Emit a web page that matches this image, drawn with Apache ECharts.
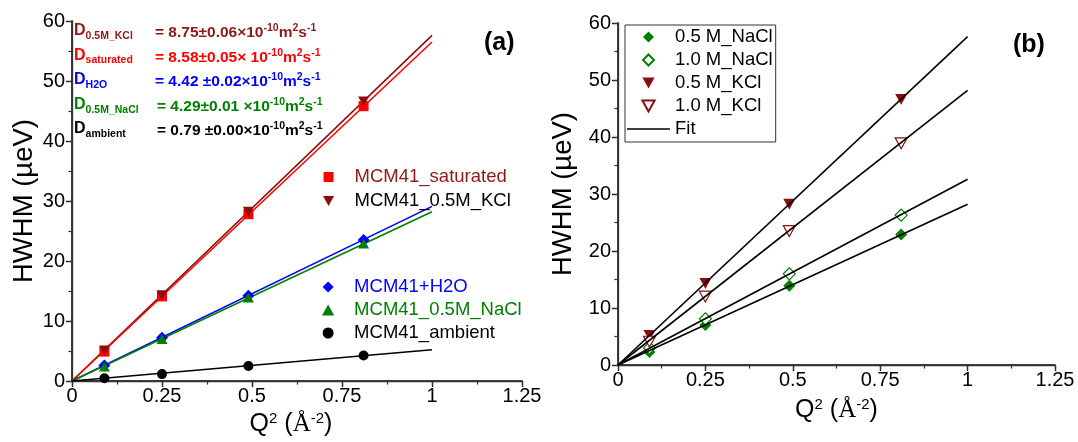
<!DOCTYPE html>
<html>
<head>
<meta charset="utf-8">
<script src="https://cdn.jsdelivr.net/npm/echarts@6/dist/echarts.min.js"></script>
<style>
html,body{margin:0;padding:0;background:#fff;}
#chart{width:1078px;height:442px;}
</style>
</head>
<body>
<div id="chart"></div>
<script>
// ---------- data ----------
const q2 = [0.09, 0.25, 0.49, 0.81];
const fitX = [0, 1];
const xTicks = [0, 0.25, 0.5, 0.75, 1, 1.25];
const xTickLabels = ['0', '0.25', '0.5', '0.75', '1', '1.25'];
const yTicks = [0, 10, 20, 30, 40, 50, 60];
const yTickLabels = ['0', '10', '20', '30', '40', '50', '60'];

// panel (a)
const a_saturated = [4.9, 14.1, 27.8, 45.8];
const a_kcl = [5.1, 14.3, 28.2, 46.6];
const a_h2o = [2.6, 7.2, 14.2, 23.5];
const a_nacl = [2.4, 7.0, 13.9, 22.9];
const a_ambient = [0.45, 1.15, 2.5, 4.25];
const fit_a_kcl = [0, 57.6];
const fit_a_saturated = [0, 56.5];
const fit_a_h2o = [0, 29.1];
const fit_a_nacl = [0, 28.2];
const fit_a_ambient = [0, 5.2];

// panel (b)
const b_nacl05 = [2.3, 7.0, 13.9, 22.9];
const b_nacl10 = [3.0, 8.1, 16.0, 26.3];
const b_kcl05 = [5.2, 14.3, 28.2, 46.6];
const b_kcl10 = [4.1, 12.0, 23.5, 38.9];
const fit_b_kcl05 = [0, 57.6];
const fit_b_kcl10 = [0, 48.2];
const fit_b_nacl10 = [0, 32.6];
const fit_b_nacl05 = [0, 28.2];

// annotation texts
const annSubs = ['0.5M_KCl', 'saturated', 'H2O', '0.5M_NaCl', 'ambient'];
const annVals = ['= 8.75±0.06×10', '= 8.58±0.05× 10', '= 4.42 ±0.02×10', '= 4.29±0.01 ×10', '= 0.79 ±0.00×10'];

// ---------- styles ----------
const FONT = '"Liberation Sans", Arial, Helvetica, sans-serif';
const DARKRED = '#8B0D0D';
const RED = '#FF0000';
const BLUE = '#0000FF';
const GREEN = '#008000';
const BLACK = '#000000';
const annColors = ['#8B1A1A', RED, BLUE, GREEN, BLACK];
const annY = [34, 58.5, 83, 108, 132];
const annX2 = [155, 155, 155, 157, 157];

const SQ = 'path://M0,0L10,0L10,10L0,10Z';
const DIA = 'path://M5,0L10,5L5,10L0,5Z';
const TUP = 'path://M5,0L10,9L0,9Z';
const TDN = 'path://M0,0L10,0L5,9Z';
const CIR = 'path://M0,5A5,5,0,1,0,10,5A5,5,0,1,0,0,5Z';
const LINEICON = 'path://M0,0L43,0L43,1.6L0,1.6Z';

function pts(arr) { return q2.map((x, i) => [x, arr[i]]); }
function line(arr) { return fitX.map((x, i) => [x, arr[i]]); }

function scatter(name, arr, sym, size, color, hollow, gi) {
  return {
    type: 'scatter', name: name, xAxisIndex: gi * 2, yAxisIndex: gi * 2,
    data: pts(arr), symbol: sym, symbolSize: size, symbolKeepAspect: true,
    itemStyle: hollow ? {color: '#fff', borderColor: color, borderWidth: 1.2, opacity: 1}
                      : {color: color, opacity: 1},
    z: 5, emphasis: {disabled: true}
  };
}
function fit(name, arr, color, gi) {
  return {
    type: 'line', name: name, xAxisIndex: gi * 2, yAxisIndex: gi * 2,
    data: line(arr), symbol: 'none', showSymbol: false,
    lineStyle: {color: color, width: 1.6}, itemStyle: {color: color},
    z: 3, silent: true, animation: false
  };
}

const supR = {fontSize: 15, fontFamily: FONT, padding: [0, 0, 12, 0], color: '#000'};
function xAxes(gi) {
  const base = {
    gridIndex: gi, type: 'value', min: 0, max: 1.25, interval: 0.25,
    splitLine: {show: false}
  };
  return [
    Object.assign({}, base, {
      position: 'bottom',
      axisLine: {show: true, lineStyle: {color: '#000', width: 1.5}},
      axisTick: {show: true, inside: false, length: 6, lineStyle: {color: '#000', width: 1.3}},
      minorTick: {show: true, splitNumber: 2, length: 3.5, lineStyle: {color: '#000', width: 1.2}},
      axisLabel: {
        fontSize: 20, fontFamily: FONT, color: '#000', margin: 5,
        formatter: v => { const i = xTicks.findIndex(t => Math.abs(t - v) < 1e-9); return i >= 0 ? xTickLabels[i] : ''; }
      },
      name: 'Q{sup|2} ({ang|Å}{sup|-2})',
      nameLocation: 'middle', nameGap: gi === 0 ? 24 : 32,
      nameTextStyle: {fontSize: 25, fontFamily: FONT, color: '#000', padding: gi === 0 ? [0, 12, 0, 0] : 0,
        rich: {sup: supR, ang: {fontSize: 25, fontFamily: '"Liberation Serif", "Times New Roman", serif', color: '#000'}}}
    }),
    Object.assign({}, base, {
      position: 'top',
      axisLine: {show: true, lineStyle: {color: '#333', width: 1.3}},
      axisTick: {show: true, inside: true, length: 5, lineStyle: {color: '#333', width: 1.2}},
      minorTick: {show: true, splitNumber: 2, length: 3, lineStyle: {color: '#333', width: 1}},
      axisLabel: {show: false}
    })
  ];
}
function yAxes(gi) {
  const base = {
    gridIndex: gi, type: 'value', min: 0, max: 60, interval: 10,
    splitLine: {show: false}
  };
  return [
    Object.assign({}, base, {
      position: 'left',
      axisLine: {show: true, lineStyle: {color: '#000', width: 1.5}},
      axisTick: {show: true, inside: false, length: 6, lineStyle: {color: '#000', width: 1.3}},
      minorTick: {show: true, splitNumber: 2, length: 3.5, lineStyle: {color: '#000', width: 1.2}},
      axisLabel: {
        fontSize: 20, fontFamily: FONT, color: '#000', margin: 7,
        formatter: v => { const i = yTicks.indexOf(v); return i >= 0 ? yTickLabels[i] : ''; }
      },
      name: 'HWHM (µeV)', nameLocation: 'middle', nameRotate: 90,
      nameGap: gi === 0 ? 33 : 41,
      nameTextStyle: {fontSize: 27.5, fontFamily: FONT, color: '#000'}
    }),
    Object.assign({}, base, {
      position: 'right',
      axisLine: {show: true, lineStyle: {color: '#333', width: 1.3}},
      axisTick: {show: true, inside: true, length: 5, lineStyle: {color: '#333', width: 1.2}},
      minorTick: {show: true, splitNumber: 2, length: 3, lineStyle: {color: '#333', width: 1}},
      axisLabel: {show: false}
    })
  ];
}

// annotation graphics
const graphics = [];
annSubs.forEach((s, i) => {
  const c = annColors[i];
  graphics.push({
    type: 'text', left: 74, top: annY[i] - 11, silent: true,
    style: {
      text: '{D|D}{sub|' + s + '}',
      rich: {
        D: {fontSize: 16, fontWeight: 'bold', fontFamily: FONT, fill: c, color: c},
        sub: {fontSize: 10.5, fontWeight: 'bold', fontFamily: FONT, fill: c, color: c, padding: [10, 0, 0, 0]}
      }
    }
  });
  graphics.push({
    type: 'text', left: annX2[i], top: annY[i] - 11, silent: true,
    style: {
      text: '{m|' + annVals[i] + '}{sup|-10}{m|m}{sup|2}{m|s}{sup|-1}',
      rich: {
        m: {fontSize: 15.5, fontWeight: 'bold', fontFamily: FONT, fill: c, color: c},
        sup: {fontSize: 10.5, fontWeight: 'bold', fontFamily: FONT, fill: c, color: c, padding: [0, 0, 9, 0]}
      }
    }
  });
});
graphics.push({type: 'text', left: 484, top: 31, silent: true,
  style: {text: '(a)', fontSize: 25, fontWeight: 'bold', fontFamily: FONT, fill: '#000'}});
graphics.push({type: 'text', left: 1013, top: 33, silent: true,
  style: {text: '(b)', fontSize: 25, fontWeight: 'bold', fontFamily: FONT, fill: '#000'}});

const legText = {fontSize: 18.5, fontFamily: FONT, color: '#000', lineHeight: 22};

const option = {
  backgroundColor: '#fff',
  animation: false,
  grid: [
    {left: 72, top: 21, width: 450, height: 360},
    {left: 618, top: 23, width: 437, height: 342}
  ],
  xAxis: xAxes(0).concat(xAxes(1)),
  yAxis: yAxes(0).concat(yAxes(1)),
  legend: [
    {
      left: 323, top: 166, orient: 'vertical', itemWidth: 42, itemHeight: 10, itemGap: 2,
      padding: 0, selectedMode: false, textStyle: legText,
      data: [
        {name: 'MCM41_saturated', textStyle: {color: '#8B1A1A'}},
        {name: 'MCM41_0.5M_KCl', textStyle: {color: '#000'}}
      ]
    },
    {
      left: 322, top: 276, orient: 'vertical', itemWidth: 42, itemHeight: 11, itemGap: 1,
      padding: 0, selectedMode: false, textStyle: legText,
      data: [
        {name: 'MCM41+H2O', textStyle: {color: BLUE}},
        {name: 'MCM41_0.5M_NaCl', textStyle: {color: GREEN}},
        {name: 'MCM41_ambient', textStyle: {color: '#000'}}
      ]
    },
    {
      left: 625, top: 25, orient: 'vertical', itemWidth: 43, itemHeight: 11, itemGap: 1,
      padding: [1, 3, 2, 2], borderColor: '#333', borderWidth: 1,
      selectedMode: false, textStyle: legText,
      data: ['0.5 M_NaCl', '1.0 M_NaCl', '0.5 M_KCl', '1.0 M_KCl', {name: 'Fit', icon: LINEICON}]
    }
  ],
  graphic: graphics,
  series: [
    fit('fa_kcl', fit_a_kcl, DARKRED, 0),
    fit('fa_sat', fit_a_saturated, RED, 0),
    fit('fa_h2o', fit_a_h2o, BLUE, 0),
    fit('fa_nacl', fit_a_nacl, GREEN, 0),
    fit('fa_amb', fit_a_ambient, BLACK, 0),
    scatter('MCM41_saturated', a_saturated, SQ, 10, RED, false, 0),
    scatter('MCM41_0.5M_KCl', a_kcl, TDN, 11, DARKRED, false, 0),
    scatter('MCM41+H2O', a_h2o, DIA, 12, BLUE, false, 0),
    scatter('MCM41_0.5M_NaCl', a_nacl, TUP, 11, GREEN, false, 0),
    scatter('MCM41_ambient', a_ambient, CIR, 10, BLACK, false, 0),

    scatter('0.5 M_NaCl', b_nacl05, DIA, 12, GREEN, false, 1),
    scatter('1.0 M_NaCl', b_nacl10, DIA, 12, GREEN, true, 1),
    scatter('0.5 M_KCl', b_kcl05, TDN, 12, DARKRED, false, 1),
    scatter('1.0 M_KCl', b_kcl10, TDN, 12, DARKRED, true, 1),
    fit('Fit', fit_b_kcl05, BLACK, 1),
    fit('Fit', fit_b_kcl10, BLACK, 1),
    fit('Fit', fit_b_nacl10, BLACK, 1),
    fit('Fit', fit_b_nacl05, BLACK, 1)
  ]
};
// fits in (b) sit above points
option.series.slice(14).forEach(s => { s.z = 6; });

const chart = echarts.init(document.getElementById('chart'), null, {renderer: 'canvas'});
chart.setOption(option);
</script>
</body>
</html>
